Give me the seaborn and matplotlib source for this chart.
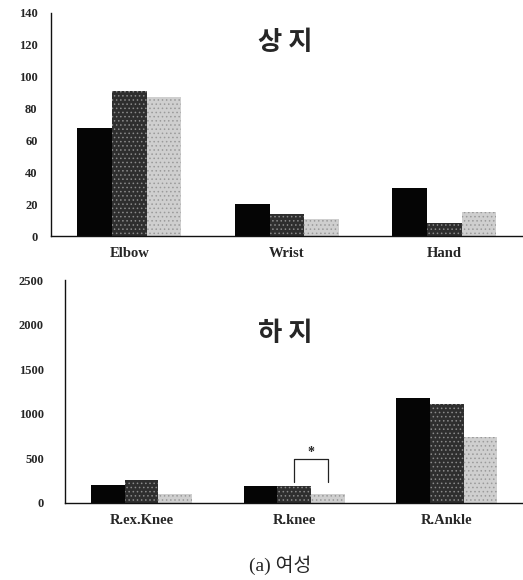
import matplotlib
matplotlib.use("Agg")
import matplotlib.pyplot as plt
import seaborn as sns
import pandas as pd

sns.set_style("white")
plt.rcParams['font.family'] = ['Liberation Serif', 'Noto Sans CJK KR', 'DejaVu Sans']
plt.rcParams['hatch.linewidth'] = 0.6

groups = ["G1", "G2", "G3"]
upper_cats = ["Elbow", "Wrist", "Hand"]
upper_vals = {"G1": [68, 20, 30], "G2": [91, 14, 8], "G3": [87, 11, 15]}
lower_cats = ["R.ex.Knee", "R.knee", "R.Ankle"]
lower_vals = {"G1": [195, 187, 1179], "G2": [262, 187, 1115], "G3": [97, 97, 741]}
upper_ticks = [0, 20, 40, 60, 80, 100, 120, 140]
lower_ticks = [0, 500, 1000, 1500, 2000, 2500]

colors = ["#050505", "#2e2e2e", "#cfcfcf"]
hatch_colors = [None, "#8a8a8a", "#9a9a9a"]
hatches = [None, "....", "...."]


def make_df(cats, vals):
    rows = []
    for g in groups:
        for c, v in zip(cats, vals[g]):
            rows.append({"cat": c, "grp": g, "val": v})
    return pd.DataFrame(rows)


fig = plt.figure(figsize=(5.23, 5.80), dpi=100)
ax1 = fig.add_axes([0.097, 0.593, 0.903, 0.385])
ax2 = fig.add_axes([0.125, 0.133, 0.875, 0.384])


def draw(ax, cats, vals, ticks, xlim_r, title, tx, ty, ypad):
    df = make_df(cats, vals)
    sns.barplot(data=df, x="cat", y="val", hue="grp", palette=colors,
                width=0.66, gap=0, ax=ax, legend=False, saturation=1)
    for i, cont in enumerate(ax.containers):
        for p in cont:
            p.set_linewidth(0)
            if hatches[i]:
                p.set_hatch(hatches[i])
                p.set_edgecolor(hatch_colors[i])
    ax.set_xlim(-0.5, xlim_r)
    ax.set_ylim(ticks[0], ticks[-1])
    ax.set_yticks(ticks)
    ax.set_yticklabels([str(t) for t in ticks], fontsize=9, fontweight="bold")
    ax.set_xticks(range(len(cats)))
    ax.set_xticklabels(cats, fontsize=10.5, fontweight="bold")
    ax.set_xticks([-0.5, 0.5, 1.5, 2.5], minor=True)
    ax.tick_params(axis="x", which="major", length=0, pad=8)
    ax.tick_params(axis="x", which="minor", length=3, direction="inout", width=0.8)
    ax.tick_params(axis="y", length=2.5, width=0.8, direction="out", pad=ypad)
    ax.set_xlabel("")
    ax.set_ylabel("")
    for s in ["top", "right"]:
        ax.spines[s].set_visible(False)
    for s in ["left", "bottom"]:
        ax.spines[s].set_color("#111111")
        ax.spines[s].set_linewidth(1.0)
    ax.text(tx, ty, title, transform=ax.transAxes, ha="center", va="center",
            fontsize=19, fontweight="bold", family=['Noto Sans CJK KR', 'DejaVu Sans'])


draw(ax1, upper_cats, upper_vals, upper_ticks, 2.47, "상 지", 0.496, 0.865, 7)
draw(ax2, lower_cats, lower_vals, lower_ticks, 2.455, "하 지", 0.48, 0.76, 13)

# significance bracket on R.knee (G2 vs G3)
bx0, bx1 = 1.0, 1.22
ax2.plot([bx0, bx0, bx1, bx1], [236, 487, 487, 236], color="#222222", lw=0.9)
ax2.text((bx0 + bx1) / 2, 492, "*", ha="center", va="bottom", fontsize=10,
         fontweight="bold")

fig.text(0.535, 0.026, "(a) 여성", ha="center", va="center", fontsize=14,
         family=['Liberation Serif', 'Noto Sans CJK KR'])

fig.savefig("out.png", dpi=100, facecolor="white")
